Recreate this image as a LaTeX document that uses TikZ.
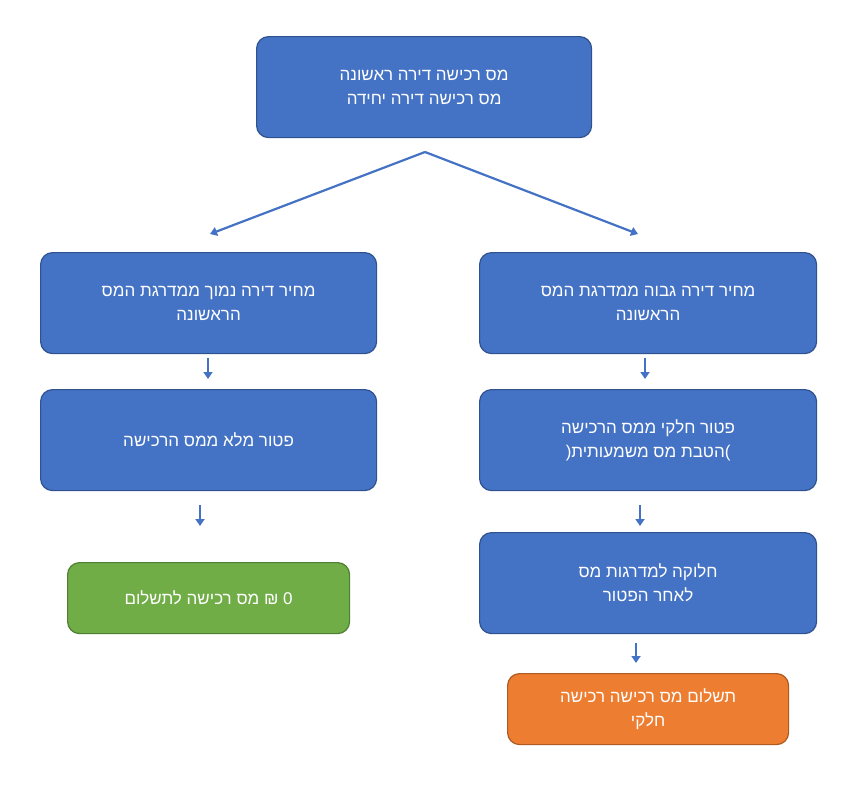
\documentclass[tikz,border=0pt]{standalone}
\usepackage{fontspec}
\newfontfamily\hebrewfont[Script=Hebrew]{Liberation Sans}
\TeXXeTstate=1
\usetikzlibrary{arrows.meta}
\definecolor{bl}{HTML}{4472C4}
\definecolor{bd}{HTML}{2F528F}
\definecolor{gr}{HTML}{70AD47}
\definecolor{grd}{HTML}{507E32}
\definecolor{orn}{HTML}{ED7D31}
\definecolor{ornd}{HTML}{AE5A21}
\newcommand{\heb}[1]{\beginR #1\endR}
\begin{document}
\begin{tikzpicture}[x=1pt,y=-1pt,
  boxstyle/.style={draw=bd,line width=1.2pt,fill=bl,rounded corners=12pt,text=white,font=\hebrewfont\fontsize{17}{24}\selectfont,align=center,anchor=north west,inner sep=0pt},
  arr/.style={draw=bl,line width=2.2pt,-{Triangle[length=7pt,width=9pt]}}]
\useasboundingbox (0,0) rectangle (856,785);
\node[boxstyle,minimum width=335pt,minimum height=101pt] (top) at (256,36) {\heb{מס רכישה דירה ראשונה}\\\heb{מס רכישה דירה יחידה}};
\node[boxstyle,minimum width=336pt,minimum height=101pt] (l1) at (40,252) {\heb{מחיר דירה נמוך ממדרגת המס}\\\heb{הראשונה}};
\node[boxstyle,minimum width=337pt,minimum height=101pt] (r1) at (479,252) {\heb{מחיר דירה גבוה ממדרגת המס}\\\heb{הראשונה}};
\node[boxstyle,minimum width=336pt,minimum height=101pt] (l2) at (40,389) {\heb{פטור מלא ממס הרכישה}};
\node[boxstyle,minimum width=337pt,minimum height=101pt] (r2) at (479,389) {\heb{פטור חלקי ממס הרכישה}\\\heb{)הטבת מס משמעותית(}};
\node[boxstyle,fill=gr,draw=grd,minimum width=282pt,minimum height=71pt] (l3) at (67,562) {\heb{0 ₪ מס רכישה לתשלום}};
\node[boxstyle,minimum width=337pt,minimum height=101pt] (r3) at (479,532) {\heb{חלוקה למדרגות מס}\\\heb{לאחר הפטור}};
\node[boxstyle,fill=orn,draw=ornd,minimum width=281pt,minimum height=71pt] (r4) at (507,673) {\heb{תשלום מס רכישה רכישה}\\\heb{חלקי}};
\coordinate (apex) at (425,152);
\coordinate (ta) at (210,234);
\coordinate (tb) at (638,234);
\draw[arr] (apex) -- (ta);
\draw[arr] (apex) -- (tb);
\coordinate (a1) at (208,358); \coordinate (b1) at (208,379);
\coordinate (a2) at (645,358); \coordinate (b2) at (645,379);
\coordinate (a3) at (200,505); \coordinate (b3) at (200,526);
\coordinate (a4) at (640,505); \coordinate (b4) at (640,526);
\coordinate (a5) at (636,643); \coordinate (b5) at (636,663);
\foreach \i in {1,...,5} \draw[arr] (a\i) -- (b\i);
\end{tikzpicture}
\end{document}
